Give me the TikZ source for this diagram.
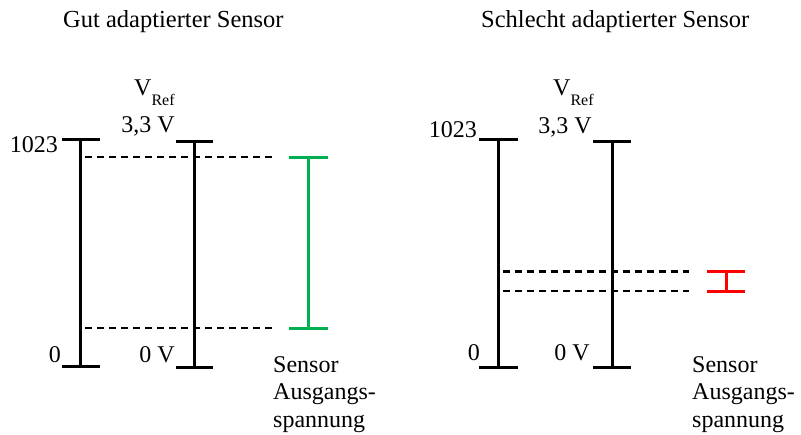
\documentclass[tikz,border=0pt]{standalone}
\usepackage{fontspec}
\setmainfont{Liberation Serif}
\definecolor{sgreen}{RGB}{0,176,80}
\definecolor{sred}{RGB}{255,0,0}
\begin{document}
\begin{tikzpicture}[x=1pt,y=-1pt,
  bar/.style={line width=3pt},
  dline/.style={line width=2pt,dash pattern=on 7pt off 5pt},
  lbl/.style={inner sep=0pt,font=\fontsize{24}{27.5}\selectfont},
  ttl/.style={inner sep=0pt,font=\fontsize{24.5}{28}\selectfont}]
\useasboundingbox (0,0) rectangle (801,434);
% titles
\node[ttl,anchor=base west] (t1) at (63,27) {Gut adaptierter Sensor};
\node[ttl,anchor=base west] (t2) at (481,27) {Schlecht adaptierter Sensor};
% ---------- left panel ----------
\coordinate (a1t) at (80,139); \coordinate (a1b) at (80,366);
\coordinate (b1t) at (194,141); \coordinate (b1b) at (194,367);
\draw[bar] (a1t) -- (a1b);
\draw[bar] ([xshift=-18pt]a1t) -- ([xshift=20pt]a1t);
\draw[bar] ([xshift=-18pt]a1b) -- ([xshift=20pt]a1b);
\draw[bar] (b1t) -- (b1b);
\draw[bar] ([xshift=-18pt]b1t) -- ([xshift=19pt]b1t);
\draw[bar] ([xshift=-18pt]b1b) -- ([xshift=19pt]b1b);
\coordinate (d1s) at (85,157); \coordinate (d1e) at (272,157);
\coordinate (d2s) at (85,328); \coordinate (d2e) at (272,328);
\draw[dline] (d1s) -- (d1e);
\draw[dline] (d2s) -- (d2e);
\coordinate (g1t) at (308,157); \coordinate (g1b) at (308,328);
\draw[bar,sgreen] (g1t) -- (g1b);
\draw[bar,sgreen] ([xshift=-19pt]g1t) -- ([xshift=20pt]g1t);
\draw[bar,sgreen] ([xshift=-19pt]g1b) -- ([xshift=20pt]g1b);
\node[lbl,anchor=base east] (l1023) at (58,152) {1023};
\node[lbl,anchor=base east] (l0) at (61,362) {0};
\node[lbl,anchor=base east] (l0v) at (175,362) {0 V};
\node[lbl,anchor=base west] (lvref) at (134,95) {V\raisebox{-10pt}{\fontsize{16}{16}\selectfont Ref}};
\node[lbl,anchor=base east] (l33) at (175,132) {3,3 V};
\node[lbl,anchor=base west,align=left] (ls1) at (273,427) {Sensor\\Ausgangs-\\spannung};
% ---------- right panel ----------
\coordinate (a2t) at (498,139); \coordinate (a2b) at (498,367);
\coordinate (b2t) at (612,141); \coordinate (b2b) at (612,367);
\draw[bar] (a2t) -- (a2b);
\draw[bar] ([xshift=-19pt]a2t) -- ([xshift=20pt]a2t);
\draw[bar] ([xshift=-19pt]a2b) -- ([xshift=20pt]a2b);
\draw[bar] (b2t) -- (b2b);
\draw[bar] ([xshift=-19pt]b2t) -- ([xshift=19pt]b2t);
\draw[bar] ([xshift=-19pt]b2b) -- ([xshift=19pt]b2b);
\coordinate (d3s) at (503,271); \coordinate (d3e) at (689,271);
\coordinate (d4s) at (503,291); \coordinate (d4e) at (689,291);
\draw[dline,line width=3pt] (d3s) -- (d3e);
\draw[dline] (d4s) -- (d4e);
\coordinate (r1t) at (726,271); \coordinate (r1b) at (726,291);
\draw[bar,sred] (r1t) -- (r1b);
\draw[bar,sred] ([xshift=-19pt]r1t) -- ([xshift=19pt]r1t);
\draw[bar,sred] ([xshift=-19pt]r1b) -- ([xshift=19pt]r1b);
\node[lbl,anchor=base east] (r1023) at (477,137) {1023};
\node[lbl,anchor=base east] (r0) at (480,360) {0};
\node[lbl,anchor=base east] (r0v) at (590,360) {0 V};
\node[lbl,anchor=base west] (rvref) at (553,95) {V\raisebox{-10pt}{\fontsize{16}{16}\selectfont Ref}};
\node[lbl,anchor=base east] (r33) at (592,133) {3,3 V};
\node[lbl,anchor=base west,align=left] (rs1) at (692,427) {Sensor\\Ausgangs-\\spannung};
\end{tikzpicture}
\end{document}
